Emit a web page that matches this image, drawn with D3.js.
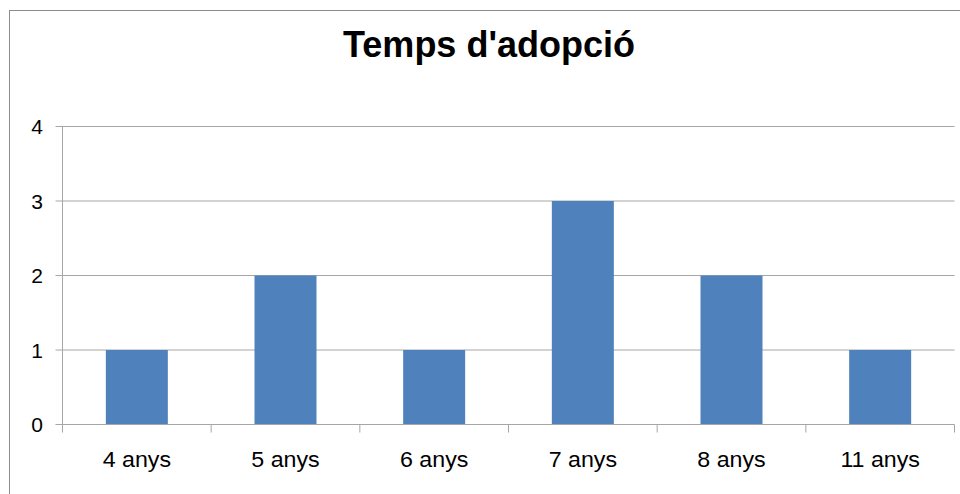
<!DOCTYPE html>
<html><head><meta charset="utf-8">
<script src="https://cdn.jsdelivr.net/npm/d3@7"></script>
<style>html,body{margin:0;padding:0;background:#fff;}svg{display:block;}</style>
</head><body>
<script>
const categories = ["4 anys","5 anys","6 anys","7 anys","8 anys","11 anys"];
const values = [1,2,1,3,2,1];
const yTicks = [0,1,2,3,4];
const title = "Temps d'adopció";

(function(){
const W = 960, H = 494;
const svg = d3.select("body").append("svg").attr("width", W).attr("height", H);
svg.append("rect").attr("x",9.5).attr("y",10.5).attr("width",W).attr("height",H)
  .attr("fill","none").attr("stroke","#8c8c8c").attr("stroke-width",1);

const pL = 62.5, pR = 954.5, pT = 126.5, pB = 424.5;
const x = d3.scaleBand().domain(categories).range([pL,pR]).paddingInner(0.583).paddingOuter(0.2915);
const xb = d3.scaleBand().domain(categories).range([pL,pR]);
const y = d3.scaleLinear().domain([0,4]).range([pB,pT]);

svg.append("text").attr("x",489).attr("y",57).attr("text-anchor","middle")
  .attr("font-family","Liberation Sans, Arial, sans-serif").attr("font-weight","bold")
  .attr("font-size",36).attr("fill","#000").text(title);

const g = svg.append("g");
g.selectAll("line.grid").data(yTicks.filter(d=>d>0)).join("line").attr("class","grid")
  .attr("x1",pL-7).attr("x2",pR).attr("y1",d=>y(d)).attr("y2",d=>y(d))
  .attr("stroke","#a6a6a6").attr("stroke-width",1);

g.selectAll("rect.bar").data(values).join("rect").attr("class","bar")
  .attr("x",(d,i)=>x(categories[i])).attr("width",x.bandwidth())
  .attr("y",d=>y(d)).attr("height",d=>y(0)-y(d)).attr("fill","#4f81bd");

g.append("line").attr("x1",pL).attr("x2",pL).attr("y1",pT).attr("y2",pB+8).attr("stroke","#a6a6a6");
g.append("line").attr("x1",pL-7).attr("x2",pR).attr("y1",pB).attr("y2",pB).attr("stroke","#a6a6a6");
g.selectAll("line.xt").data(categories).join("line").attr("class","xt")
  .attr("x1",d=>xb(d)+xb.bandwidth()).attr("x2",d=>xb(d)+xb.bandwidth())
  .attr("y1",pB).attr("y2",pB+8).attr("stroke","#a6a6a6");

g.selectAll("text.yl").data(yTicks).join("text").attr("class","yl")
  .attr("x",43).attr("y",d=>y(d)).attr("dy","0.36em").attr("text-anchor","end")
  .attr("font-family","Liberation Sans, Arial, sans-serif").attr("font-size",21).text(d=>d);

g.selectAll("text.xl").data(categories).join("text").attr("class","xl")
  .attr("transform",d=>`translate(${xb(d)+xb.bandwidth()/2},467) scale(1.08,1)`)
  .attr("text-anchor","middle")
  .attr("font-family","Liberation Sans, Arial, sans-serif").attr("font-size",21.5).text(d=>d);
})();
</script>
</body></html>
